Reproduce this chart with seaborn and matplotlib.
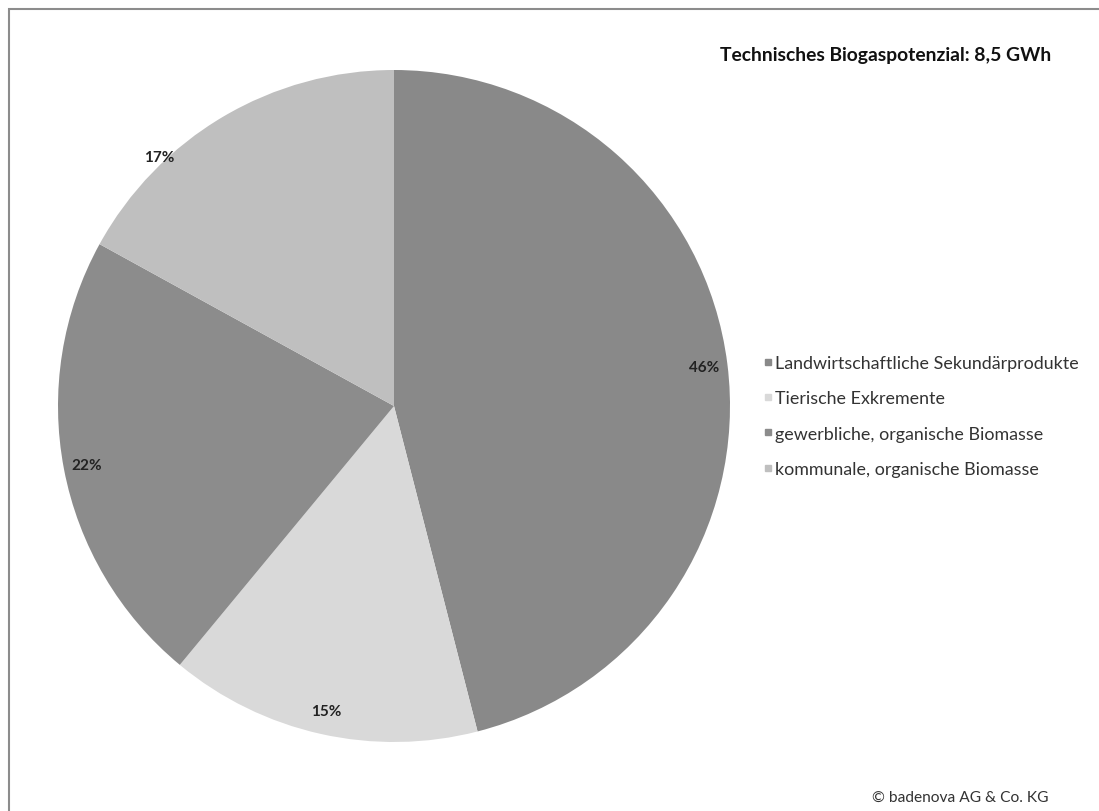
import matplotlib
matplotlib.use("Agg")
import matplotlib.pyplot as plt
from matplotlib.lines import Line2D
from matplotlib.patches import Rectangle
import seaborn as sns
import numpy as np

categories = [
    "Landwirtschaftliche Sekundärprodukte",
    "Tierische Exkremente",
    "gewerbliche, organische Biomasse",
    "kommunale, organische Biomasse",
]
shares = [46, 15, 22, 17]
slice_colors = ["#898989", "#d9d9d9", "#8c8c8c", "#bfbfbf"]
title = "Technisches Biogaspotenzial: 8,5 GWh"
credit = "© badenova AG & Co. KG"

sns.set_theme(style="white")
plt.rcParams["font.family"] = ["Lato", "DejaVu Sans"]
palette = sns.color_palette(slice_colors)

W, H = 1099, 812
fig = plt.figure(figsize=(W / 100, H / 100), dpi=100)
fig.patch.set_facecolor("white")

# outer chart frame
fig.add_artist(Rectangle((9 / W, -0.01), 1.02, 1 - 9.5 / H - (-0.01),
                         transform=fig.transFigure, fill=False,
                         edgecolor="#8c8c8c", linewidth=1.5))

cx, cy, r = 394, 407, 336
ax = fig.add_axes([(cx - r) / W, (H - cy - r) / H, 2 * r / W, 2 * r / H])
wedges, texts, autotexts = ax.pie(
    shares, colors=palette, startangle=90, counterclock=False,
    autopct=lambda p: f"{p:.0f}%", pctdistance=0.93, radius=1,
    wedgeprops=dict(linewidth=0),
    textprops=dict(fontsize=11, color="#222222", fontweight="bold"))
# the small upper-left slice carries its label nearer the rim
autotexts[3].set_position((-0.70, 0.74))
ax.set_xlim(-1, 1)
ax.set_ylim(-1, 1)
ax.set_aspect("equal")
ax.axis("off")

handles = [Line2D([], [], linestyle="none", marker="s", markersize=5,
                  markerfacecolor=c, markeredgecolor=c) for c in palette]
fig.legend(handles, categories, loc="center left",
           bbox_to_anchor=(748 / W, 1 - 417 / H), frameon=False,
           fontsize=12.9, handlelength=0.45, handletextpad=0.15,
           labelspacing=1.08, labelcolor="#333333")

fig.text(720 / W, 1 - 55 / H, title, fontsize=13.9, fontweight="bold",
         color="#111111", va="center", ha="left")
fig.text(1049 / W, 1 - 798 / H, credit, fontsize=11.2, color="#333333",
         va="center", ha="right")

fig.savefig("out.png", dpi=100)
